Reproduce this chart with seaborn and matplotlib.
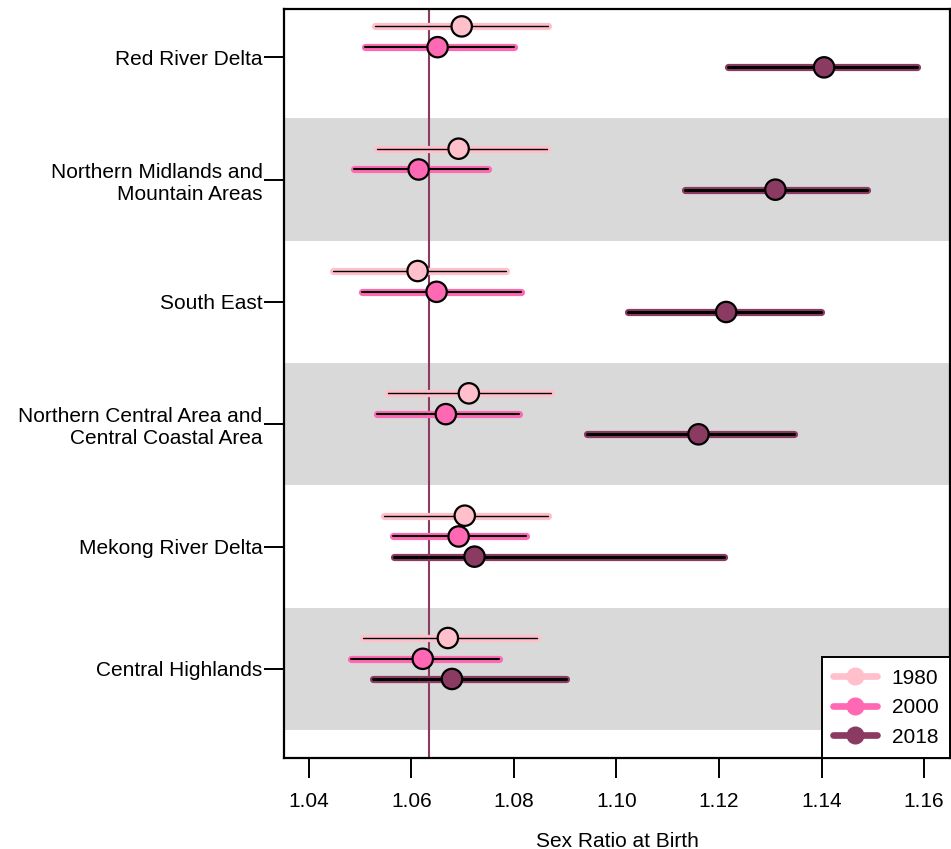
import numpy as np
import pandas as pd
import matplotlib
matplotlib.use("Agg")
import matplotlib.pyplot as plt
from matplotlib.lines import Line2D
import seaborn as sns

# region labels, top to bottom
regions = ["Red River Delta",
           "Northern Midlands and\nMountain Areas",
           "South East",
           "Northern Central Area and\nCentral Coastal Area",
           "Mekong River Delta",
           "Central Highlands"]
years = ["1980", "2000", "2018"]

est_1980 = [1.0698, 1.0692, 1.0612, 1.0712, 1.0704, 1.0671]
lo_1980 = [1.0529, 1.0533, 1.0447, 1.0554, 1.0546, 1.0505]
hi_1980 = [1.0866, 1.0864, 1.0784, 1.0872, 1.0866, 1.0844]

est_2000 = [1.0651, 1.0614, 1.0649, 1.0667, 1.0692, 1.0622]
lo_2000 = [1.0509, 1.0488, 1.0503, 1.0533, 1.0564, 1.0482]
hi_2000 = [1.0801, 1.0749, 1.0813, 1.0809, 1.0823, 1.0770]

est_2018 = [1.1405, 1.1310, 1.1214, 1.1160, 1.0723, 1.0679]
lo_2018 = [1.1218, 1.1134, 1.1023, 1.0942, 1.0566, 1.0525]
hi_2018 = [1.1586, 1.1489, 1.1399, 1.1347, 1.1209, 1.0901]

reference_srb = 1.0634
xticks = [1.04, 1.06, 1.08, 1.10, 1.12, 1.14, 1.16]

colors = {"1980": "#FFC0CB", "2000": "#FF69B4", "2018": "#8B3A62"}
offsets = {"1980": -0.253, "2000": -0.083, "2018": 0.082}
core_lw = {"1980": 1.0, "2000": 1.5, "2018": 2.2}

rows = []
for yr, est, lo, hi in [("1980", est_1980, lo_1980, hi_1980),
                        ("2000", est_2000, lo_2000, hi_2000),
                        ("2018", est_2018, lo_2018, hi_2018)]:
    for i, reg in enumerate(regions):
        rows.append({"region": reg, "year": yr, "srb": est[i], "lo": lo[i],
                     "hi": hi[i], "pos": i + offsets[yr]})
df = pd.DataFrame(rows)

sns.set_style("white")
plt.rcParams["font.family"] = ["Liberation Sans", "DejaVu Sans"]
plt.rcParams["text.color"] = "black"
plt.rcParams["xtick.color"] = "black"
plt.rcParams["ytick.color"] = "black"
plt.rcParams["axes.labelcolor"] = "black"

fig = plt.figure(figsize=(9.51, 8.49), dpi=100)
ax = fig.add_axes([284 / 951, 1 - 758 / 849, 666 / 951, 749 / 849])

# alternating grey bands
for i in range(len(regions)):
    if i % 2 == 1:
        ax.axhspan(i - 0.5, i + 0.5, color="#D9D9D9", lw=0, zorder=0)

ax.axvline(reference_srb, color="#8B3A62", lw=1.5, zorder=1)

for yr in years:
    d = df[df["year"] == yr]
    ax.hlines(d["pos"], d["lo"], d["hi"], color=colors[yr], lw=5.2,
              capstyle="round", zorder=2)
    ax.hlines(d["pos"], d["lo"], d["hi"], color="black", lw=core_lw[yr],
              capstyle="round", zorder=3)

sns.scatterplot(data=df, x="srb", y="pos", hue="year", palette=colors,
                s=215, edgecolor="black", linewidth=1.6, legend=False,
                zorder=4, ax=ax)

ax.set_xlim(1.03513, 1.16507)
ax.set_ylim(5.728, -0.395)
ax.set_xticks(xticks)
ax.set_xticklabels([f"{t:.2f}" for t in xticks], fontsize=15)
ax.set_yticks(range(len(regions)))
ax.set_yticklabels(regions, fontsize=15)
ax.tick_params(axis="both", direction="out", length=14.4, width=1.4,
               color="black", labelcolor="black", left=True, bottom=True)
ax.tick_params(axis="x", pad=10)
ax.tick_params(axis="y", pad=1)
ax.set_xlabel("Sex Ratio at Birth", fontsize=15, labelpad=15, color="black")
ax.set_ylabel("")
for sp in ax.spines.values():
    sp.set_visible(True)
    sp.set_color("black")
    sp.set_linewidth(1.6)

handles = [Line2D([0], [0], color=colors[yr], lw=4.8, marker="o",
                  markersize=12, markeredgecolor=colors[yr]) for yr in years]
leg = ax.legend(handles, years, loc="lower right", fontsize=15,
                frameon=True, fancybox=False, borderaxespad=0,
                handlelength=2.1, handletextpad=0.7, borderpad=0.55,
                labelspacing=0.5)
leg.get_frame().set_edgecolor("black")
leg.get_frame().set_linewidth(1.4)
leg.get_frame().set_alpha(1)

fig.savefig("out.png", dpi=100)
